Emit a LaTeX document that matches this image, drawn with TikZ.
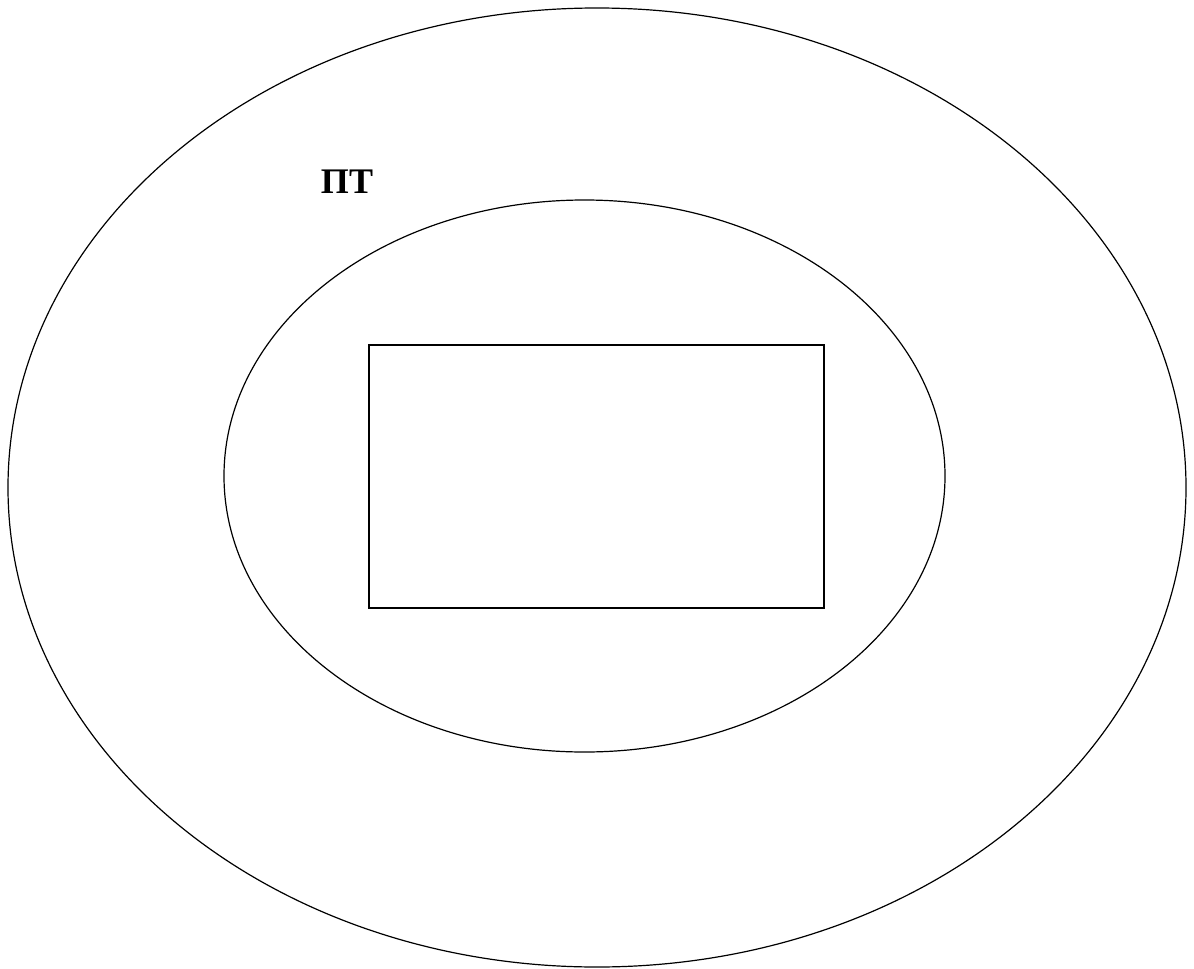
\documentclass[tikz,border=0pt]{standalone}
\usepackage{fontspec}
\setmainfont{Liberation Serif}
\begin{document}
\begin{tikzpicture}[x=1pt,y=-1pt,
  shapeline/.style={draw=black,line width=1.2pt},
  lbl/.style={font=\fontsize{36}{40}\selectfont\bfseries,inner sep=0pt}]
\useasboundingbox[fill=white] (0,0) rectangle (1194,969);
\draw[shapeline] (597,487.5) ellipse [x radius=589, y radius=479.5];
\draw[shapeline] (584.5,476) ellipse [x radius=360.5, y radius=276];
\node[shapeline,minimum width=455pt,minimum height=263pt,inner sep=0pt] (box) at (596.5,476.5) {};
\node[lbl,anchor=base] (pt) at (347,193) {ПТ};
\end{tikzpicture}
\end{document}
